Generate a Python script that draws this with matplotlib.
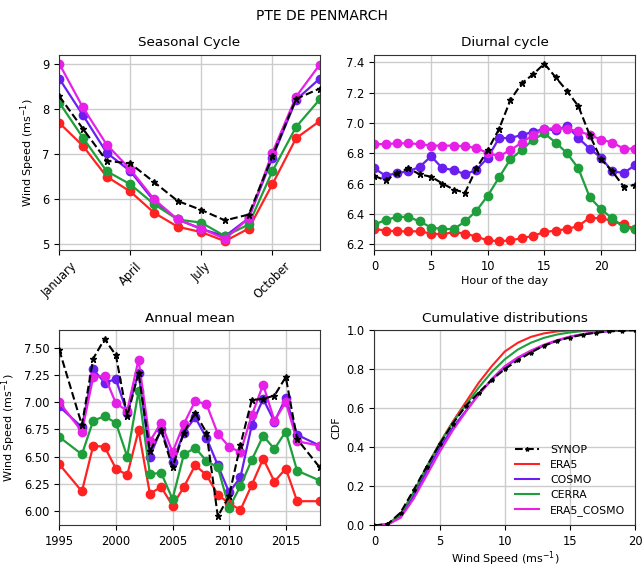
import numpy as np
import matplotlib
matplotlib.use("Agg")
import matplotlib.pyplot as plt

# ---- data ----
names = ["SYNOP", "ERA5", "COSMO", "CERRA", "ERA5_COSMO"]
colors = ["black", "#ff2222", "#6a1ff0", "#1f9e3c", "#e620e6"]

month_labels = ["January", "April", "July", "October"]
months = np.arange(12)
season_synop = [8.28, 7.56, 6.85, 6.79, 6.38, 5.96, 5.76, 5.53, 5.66, 6.95, 8.22, 8.45]
season_era5 = [7.69, 7.18, 6.50, 6.17, 5.70, 5.39, 5.27, 5.07, 5.35, 6.33, 7.35, 7.73]
season_cosmo = [8.67, 7.86, 7.03, 6.62, 5.96, 5.55, 5.34, 5.18, 5.58, 6.92, 8.20, 8.67]
season_cerra = [8.14, 7.36, 6.62, 6.33, 5.89, 5.55, 5.48, 5.18, 5.44, 6.62, 7.60, 8.21]
season_mix = [9.00, 8.03, 7.21, 6.66, 6.00, 5.55, 5.35, 5.12, 5.58, 7.03, 8.27, 8.98]

hours = np.arange(24)
diur_synop = [6.65, 6.62, 6.67, 6.70, 6.66, 6.645, 6.60, 6.56, 6.54, 6.70, 6.82, 6.96,
              7.15, 7.26, 7.32, 7.39, 7.30, 7.21, 7.11, 6.92, 6.76, 6.68, 6.58, 6.59]
diur_era5 = [6.30, 6.29, 6.285, 6.285, 6.285, 6.27, 6.265, 6.28, 6.27, 6.25, 6.225, 6.22,
             6.225, 6.24, 6.255, 6.28, 6.29, 6.30, 6.32, 6.375, 6.37, 6.355, 6.33, 6.30]
diur_cosmo = [6.70, 6.65, 6.67, 6.68, 6.71, 6.78, 6.70, 6.69, 6.66, 6.69, 6.77, 6.90,
              6.90, 6.92, 6.94, 6.96, 6.95, 6.98, 6.90, 6.83, 6.77, 6.68, 6.67, 6.72]
diur_cerra = [6.33, 6.36, 6.38, 6.38, 6.35, 6.31, 6.30, 6.30, 6.35, 6.42, 6.52, 6.64,
              6.76, 6.82, 6.89, 6.93, 6.87, 6.80, 6.70, 6.51, 6.43, 6.37, 6.31, 6.30]
diur_mix = [6.86, 6.86, 6.865, 6.865, 6.86, 6.85, 6.85, 6.85, 6.845, 6.835, 6.80, 6.78,
            6.82, 6.87, 6.92, 6.96, 6.965, 6.96, 6.945, 6.92, 6.89, 6.87, 6.83, 6.83]

years = [1995, 1997, 1998, 1999, 2000, 2001, 2002, 2003, 2004, 2005, 2006, 2007,
         2008, 2009, 2010, 2011, 2012, 2013, 2014, 2015, 2016, 2018]
ann_synop = [7.48, 6.79, 7.40, 7.58, 7.43, 6.87, 7.27, 6.55, 6.74, 6.40, 6.72, 6.90,
             6.72, 5.95, 6.14, 6.61, 7.02, 7.03, 7.06, 7.23, 6.66, 6.40]
ann_era5 = [6.43, 6.18, 6.60, 6.59, 6.39, 6.33, 6.74, 6.16, 6.22, 6.05, 6.22, 6.42,
            6.33, 6.15, 6.07, 6.01, 6.24, 6.48, 6.27, 6.39, 6.09, 6.09]
ann_cosmo = [6.96, 6.77, 7.30, 7.18, 7.21, 6.90, 7.27, 6.50, 6.75, 6.45, 6.72, 6.86,
             6.67, 6.42, 6.17, 6.31, 6.79, 7.03, 6.82, 7.04, 6.70, 6.60]
ann_cerra = [6.68, 6.52, 6.83, 6.87, 6.81, 6.50, 7.10, 6.34, 6.35, 6.11, 6.52, 6.58,
             6.46, 6.40, 6.03, 6.23, 6.47, 6.69, 6.57, 6.73, 6.37, 6.28]
ann_mix = [7.00, 6.73, 7.23, 7.24, 6.99, 6.92, 7.39, 6.64, 6.81, 6.54, 6.80, 7.01,
           6.98, 6.71, 6.59, 6.54, 6.88, 7.16, 6.83, 7.00, 6.64, 6.60]

speeds = np.arange(21)
cdf_synop = [0, 0.005, 0.065, 0.18, 0.30, 0.415, 0.52, 0.61, 0.68, 0.745, 0.80, 0.845,
             0.885, 0.92, 0.945, 0.962, 0.977, 0.987, 0.993, 0.997, 1.0]
cdf_era5 = [0, 0.005, 0.055, 0.165, 0.295, 0.42, 0.53, 0.63, 0.73, 0.815, 0.89, 0.935,
            0.965, 0.983, 0.993, 0.998, 1.0, 1.0, 1.0, 1.0, 1.0]
cdf_cosmo = [0, 0.004, 0.045, 0.15, 0.275, 0.395, 0.50, 0.585, 0.67, 0.745, 0.81, 0.855,
             0.89, 0.92, 0.945, 0.965, 0.978, 0.988, 0.994, 0.998, 1.0]
cdf_cerra = [0, 0.005, 0.055, 0.17, 0.30, 0.42, 0.525, 0.615, 0.705, 0.785, 0.85, 0.90,
             0.935, 0.96, 0.977, 0.988, 0.995, 0.998, 1.0, 1.0, 1.0]
cdf_mix = [0, 0.003, 0.038, 0.135, 0.255, 0.375, 0.485, 0.58, 0.67, 0.75, 0.815, 0.86,
           0.895, 0.925, 0.948, 0.967, 0.98, 0.989, 0.995, 0.998, 1.0]

season = [season_synop, season_era5, season_cosmo, season_cerra, season_mix]
diurnal = [diur_synop, diur_era5, diur_cosmo, diur_cerra, diur_mix]
annual = [ann_synop, ann_era5, ann_cosmo, ann_cerra, ann_mix]
cdfs = [cdf_synop, cdf_era5, cdf_cosmo, cdf_cerra, cdf_mix]

plt.rcParams['font.size'] = 8
plt.rcParams['xtick.labelsize'] = 8.3
plt.rcParams['ytick.labelsize'] = 8.3
plt.rcParams['axes.edgecolor'] = '#333333'

fig, axs = plt.subplots(2, 2, figsize=(6.44, 5.71), dpi=100)
fig.subplots_adjust(left=0.092, right=0.986, bottom=0.08, top=0.904,
                    wspace=0.21, hspace=0.41)
fig.suptitle("PTE DE PENMARCH", fontsize=10, y=0.972, va='center')
ylab = "Wind Speed (ms$^{-1}$)"
tsize = 9.7


def draw(ax, x, series):
    for i, y in enumerate(series):
        if i == 0:
            ax.plot(x, y, '--', color='k', marker='*', ms=4.5, lw=1.5, zorder=6)
        else:
            ax.plot(x, y, '-', color=colors[i], marker='o', ms=6, lw=1.6)
    ax.grid(True, color='#cccccc', lw=1)


ax = axs[0, 0]
draw(ax, months, season)
ax.set_xlim(0, 11)
ax.set_xticks([0, 3, 6, 9])
ax.set_xticklabels(month_labels, rotation=45)
ax.set_yticks([5, 6, 7, 8, 9])
ax.set_ylabel(ylab)
ax.set_title("Seasonal Cycle", fontsize=tsize)

ax = axs[0, 1]
draw(ax, hours, diurnal)
ax.set_xlim(0, 23)
ax.set_yticks(np.arange(6.2, 7.41, 0.2))
ax.set_xlabel("Hour of the day", labelpad=2)
ax.set_title("Diurnal cycle", fontsize=tsize)

ax = axs[1, 0]
draw(ax, years, annual)
ax.set_xlim(1995, 2018)
ax.set_xticks([1995, 2000, 2005, 2010, 2015])
ax.set_yticks(np.arange(6.0, 7.51, 0.25))
ax.yaxis.set_major_formatter('{x:.2f}')
ax.set_ylabel(ylab)
ax.set_title("Annual mean", fontsize=tsize)

ax = axs[1, 1]
for i, c in enumerate(cdfs):
    if i == 0:
        ax.plot(speeds, c, '--', color='k', marker='*', ms=3, lw=1.5,
                label=names[i], zorder=6)
    else:
        ax.plot(speeds, c, '-', color=colors[i], lw=1.5, label=names[i])
ax.grid(True, color='#cccccc', lw=1)
ax.set_xlim(0, 20)
ax.set_ylim(0, 1)
ax.set_xticks([0, 5, 10, 15, 20])
ax.set_yticks(np.arange(0, 1.01, 0.2))
ax.yaxis.set_major_formatter('{x:.1f}')
ax.set_xlabel(ylab, labelpad=1)
ax.set_ylabel("CDF")
ax.set_title("Cumulative distributions", fontsize=tsize)
ax.legend(loc='lower right', bbox_to_anchor=(1.0, 0.0), frameon=False,
          fontsize=7.8, handlelength=2.2, handletextpad=1.0, labelspacing=0.45)

fig.savefig("out.png", dpi=100)
